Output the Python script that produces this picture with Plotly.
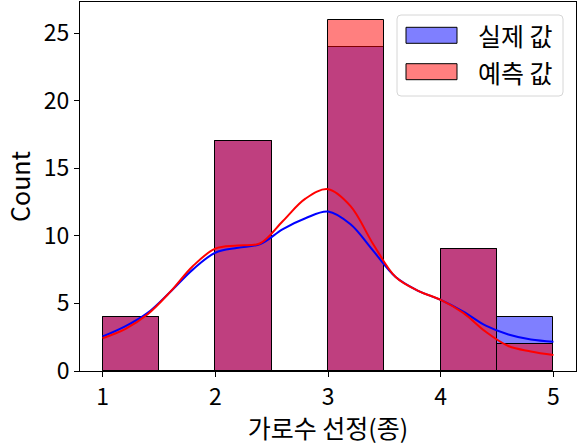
import plotly.graph_objects as go

# Histogram bins (left edges, width 0.5) and counts
bin_left = [1.0, 1.5, 2.0, 2.5, 3.0, 3.5, 4.0, 4.5]
bin_width = 0.5
actual_counts = [4, 0, 17, 0, 24, 0, 9, 4]
pred_counts = [4, 0, 17, 0, 26, 0, 9, 2]

# KDE curves (count scale)
kde_x = [1.0, 1.2, 1.4, 1.6, 1.8, 2.0, 2.2, 2.4, 2.6, 2.8, 3.0, 3.2, 3.4, 3.6, 3.8, 4.0, 4.2,
         4.4, 4.6, 4.8, 5.0]
kde_actual = [2.55, 3.3, 4.3, 5.85, 7.5, 8.75, 9.12, 9.4, 10.5, 11.3, 11.8, 10.85, 8.9, 6.95,
              5.93, 5.26, 4.4, 3.35, 2.7, 2.33, 2.17]
kde_pred = [2.42, 3.1, 4.2, 5.85, 7.75, 9.05, 9.28, 9.45, 11.1, 12.75, 13.45, 12.2, 9.4, 6.95,
            5.93, 5.26, 4.3, 2.9, 1.85, 1.45, 1.18]

labels = ["실제 값", "예측 값"]
x_ticks = [1, 2, 3, 4, 5]
y_ticks = [0, 5, 10, 15, 20, 25]

bar_colors = ["rgba(0,0,255,0.5)", "rgba(255,0,0,0.5)"]
centers = [b + bin_width / 2 for b in bin_left]
FONT = "Noto Sans CJK KR"

fig = go.Figure()
fig.add_trace(go.Bar(x=centers, y=actual_counts, width=bin_width, name=labels[0], showlegend=False,
                     marker=dict(color=bar_colors[0], line=dict(color="black", width=1))))
fig.add_trace(go.Bar(x=centers, y=pred_counts, width=bin_width, name=labels[1], showlegend=False,
                     marker=dict(color=bar_colors[1], line=dict(color="black", width=1))))
fig.add_trace(go.Scatter(x=kde_x, y=kde_actual, mode="lines",
                         line=dict(color="blue", width=2, shape="spline", smoothing=1.0),
                         showlegend=False, hoverinfo="skip"))
fig.add_trace(go.Scatter(x=kde_x, y=kde_pred, mode="lines",
                         line=dict(color="red", width=2, shape="spline", smoothing=1.0),
                         showlegend=False, hoverinfo="skip"))

# ---- hand-drawn legend (matplotlib style) in paper coordinates ----
L, R, T, B = 80, 9, 2, 74
W, H = 585, 445
pw, ph = W - L - R, H - T - B


def px(x):
    return (x - L) / pw


def py(y):
    return (H - B - y) / ph


def rounded_rect(x0, y0, x1, y1, r=4):
    rx, ry = r / pw, r / ph
    a0, a1, b0, b1 = px(x0), px(x1), py(y1), py(y0)
    return (f"M {a0+rx},{b0} L {a1-rx},{b0} Q {a1},{b0} {a1},{b0+ry} "
            f"L {a1},{b1-ry} Q {a1},{b1} {a1-rx},{b1} L {a0+rx},{b1} "
            f"Q {a0},{b1} {a0},{b1-ry} L {a0},{b0+ry} Q {a0},{b0} {a0+rx},{b0} Z")


shapes = [dict(type="path", xref="paper", yref="paper", path=rounded_rect(397, 15, 563, 96),
               fillcolor="rgba(255,255,255,0.8)", line=dict(color="#d6d6d6", width=1))]
annotations = []
entry_centers = [35.3, 71.7]
for i, yc in enumerate(entry_centers):
    shapes.append(dict(type="rect", xref="paper", yref="paper",
                       x0=px(406), x1=px(457), y0=py(yc + 8), y1=py(yc - 8),
                       fillcolor=bar_colors[i], line=dict(color="black", width=1)))
    annotations.append(dict(xref="paper", yref="paper", x=px(476), y=py(yc), xanchor="left",
                            yanchor="middle", text=labels[i], showarrow=False,
                            font=dict(size=25, family=FONT, color="black")))

fig.update_layout(
    width=W, height=H,
    margin=dict(l=L, r=R, t=T, b=B),
    barmode="overlay", bargap=0,
    plot_bgcolor="white", paper_bgcolor="white",
    font=dict(family=FONT, size=21, color="black"),
    shapes=shapes, annotations=annotations,
    showlegend=False,
)
fig.update_xaxes(range=[0.8, 5.2], tickvals=x_ticks, ticks="outside", ticklen=5, tickcolor="black",
                 showline=True, linecolor="black", linewidth=1, mirror=True, showgrid=False, zeroline=False,
                 title=dict(text="가로수 선정(종)", standoff=4), tickfont=dict(size=23))
fig.update_yaxes(range=[0, 27.3], tickvals=y_ticks, ticks="outside", ticklen=5, tickcolor="black",
                 showline=True, linecolor="black", linewidth=1, mirror=True, showgrid=False, zeroline=False,
                 title=dict(text="Count", standoff=6), tickfont=dict(size=23))

fig.write_html("out.html")
